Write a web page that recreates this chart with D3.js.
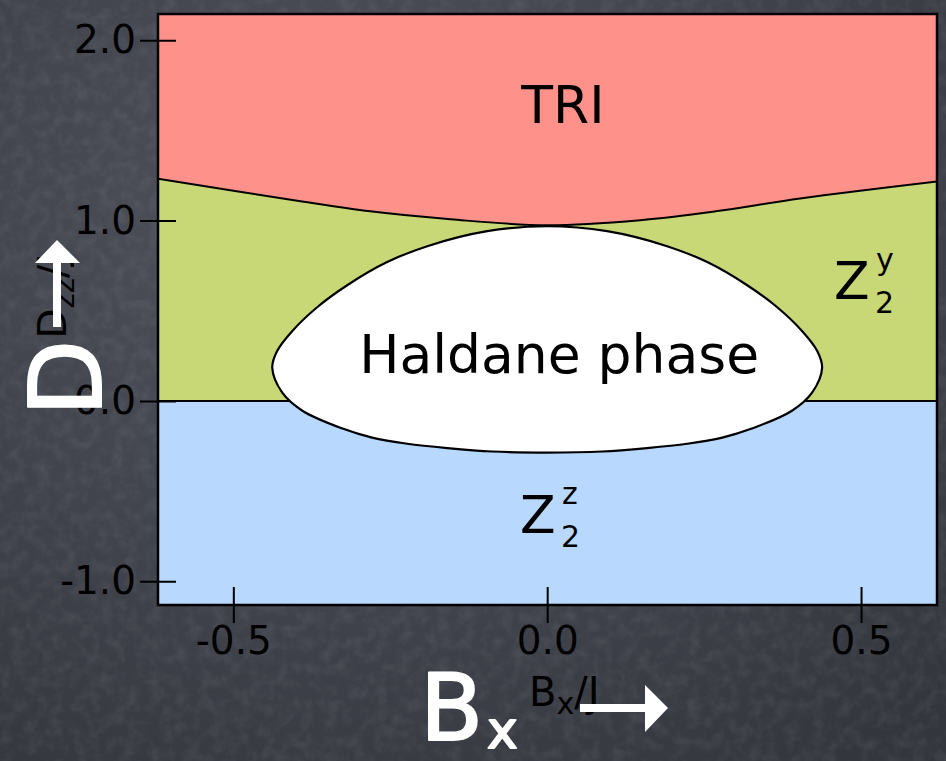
<!DOCTYPE html>
<html>
<head>
<meta charset="utf-8">
<script src="https://cdn.jsdelivr.net/npm/d3@7"></script>
<style>
  html, body { margin: 0; padding: 0; background: #44474f; }
  svg { display: block; }
</style>
</head>
<body>
<svg id="chart" width="946" height="761"></svg>
<script>
// ---------- data ----------
const xTickValues = [-0.5, 0.0, 0.5];
const yTickValues = [-1.0, 0.0, 1.0, 2.0];

// TRI / Z2^y boundary (upper curve)
const triBoundaryBx = [-0.62, -0.393, -0.282, -0.154, 0.0, 0.148, 0.268, 0.403, 0.621];
const triBoundaryD  = [1.232, 1.107, 1.051, 1.007, 0.974, 1.002, 1.051, 1.122, 1.216];

// Z2^y / Z2^z boundary
const z2BoundaryD = 0.0;

// Haldane phase closed boundary (upper arc left->right, then lower arc right->left)
const haldaneBx = [-0.438, -0.430, -0.406, -0.366, -0.318, -0.255, -0.191, -0.0955, 0.0,
                   0.0955, 0.191, 0.255, 0.318, 0.366, 0.406, 0.430, 0.438,
                   0.422, 0.390, 0.326, 0.279, 0.223, 0.159, 0.0876, 0.0,
                   -0.0876, -0.159, -0.223, -0.279, -0.326, -0.390, -0.422];
const haldaneD  = [0.184, 0.278, 0.388, 0.521, 0.643, 0.770, 0.858, 0.941, 0.9685,
                   0.941, 0.858, 0.770, 0.643, 0.521, 0.388, 0.278, 0.184,
                   0.046, -0.054, -0.153, -0.203, -0.237, -0.261, -0.280, -0.286,
                   -0.280, -0.261, -0.237, -0.203, -0.153, -0.054, 0.046];

const phaseNames = ["TRI", "Haldane phase", "Z", "Z"];
const xDomain = [-0.62, 0.621];
const yDomain = [-1.131, 2.145];

// ---------- layout ----------
const W = 946, H = 761;
const plot = { left: 158, right: 937, top: 14, bottom: 605 };
const colors = { tri: "#ff918b", z2y: "#c8d876", z2z: "#b9d8fd", haldane: "#ffffff" };
const font = "'DejaVu Sans', Verdana, sans-serif";

const svg = d3.select("#chart");
const x = d3.scaleLinear().domain(xDomain).range([plot.left, plot.right]);
const y = d3.scaleLinear().domain(yDomain).range([plot.bottom, plot.top]);

// ---------- background (chalkboard) ----------
const defs = svg.append("defs");
const bg = defs.append("radialGradient").attr("id", "bg").attr("cx", "40%").attr("cy", "30%").attr("r", "85%");
bg.append("stop").attr("offset", "0%").attr("stop-color", "#52555e");
bg.append("stop").attr("offset", "100%").attr("stop-color", "#33363d");
const noise = defs.append("filter").attr("id", "noise").attr("x", 0).attr("y", 0).attr("width", "100%").attr("height", "100%");
noise.append("feTurbulence").attr("type", "fractalNoise").attr("baseFrequency", "0.08").attr("numOctaves", 3).attr("seed", 7).attr("result", "t");
noise.append("feColorMatrix").attr("in", "t").attr("type", "matrix")
  .attr("values", "0 0 0 0 0.85  0 0 0 0 0.87  0 0 0 0 0.92  0 0 0 0.9 -0.35");
svg.append("rect").attr("width", W).attr("height", H).attr("fill", "url(#bg)");
svg.append("rect").attr("width", W).attr("height", H).attr("filter", "url(#noise)").attr("opacity", 0.16);

defs.append("clipPath").attr("id", "clip").append("rect")
  .attr("x", plot.left).attr("y", plot.top)
  .attr("width", plot.right - plot.left).attr("height", plot.bottom - plot.top);

const g = svg.append("g").attr("clip-path", "url(#clip)");

// ---------- phase regions ----------
const triPts = triBoundaryBx.map((bx, i) => [bx, triBoundaryD[i]]);
const triCurve = d3.curveCatmullRom.alpha(0.5);

// Z2^z (below zero)
g.append("rect")
  .attr("x", x(xDomain[0])).attr("y", y(z2BoundaryD))
  .attr("width", x(xDomain[1]) - x(xDomain[0])).attr("height", y(yDomain[0]) - y(z2BoundaryD))
  .attr("fill", colors.z2z);

// Z2^y between zero and TRI curve
g.append("path").datum(triPts)
  .attr("d", d3.area().x(d => x(d[0])).y0(y(z2BoundaryD)).y1(d => y(d[1])).curve(triCurve))
  .attr("fill", colors.z2y);

// TRI above curve
g.append("path").datum(triPts)
  .attr("d", d3.area().x(d => x(d[0])).y0(y(yDomain[1])).y1(d => y(d[1])).curve(triCurve))
  .attr("fill", colors.tri);

// boundaries
g.append("path").datum(triPts)
  .attr("d", d3.line().x(d => x(d[0])).y(d => y(d[1])).curve(triCurve))
  .attr("fill", "none").attr("stroke", "#000").attr("stroke-width", 2);
g.append("line")
  .attr("x1", x(xDomain[0])).attr("x2", x(xDomain[1]))
  .attr("y1", y(z2BoundaryD)).attr("y2", y(z2BoundaryD))
  .attr("stroke", "#000").attr("stroke-width", 2);

// Haldane
const halPts = haldaneBx.map((bx, i) => [bx, haldaneD[i]]);
g.append("path").datum(halPts)
  .attr("d", d3.line().x(d => x(d[0])).y(d => y(d[1])).curve(d3.curveCatmullRomClosed.alpha(0.5)))
  .attr("fill", colors.haldane).attr("stroke", "#000").attr("stroke-width", 2.2);

// ---------- phase labels ----------
const labels = svg.append("g").attr("font-family", font).attr("fill", "#000");
labels.append("text").attr("x", x(0.025)).attr("y", 123).attr("text-anchor", "middle")
  .attr("font-size", 52).text(phaseNames[0]);
labels.append("text").attr("x", x(0.019)).attr("y", 373).attr("text-anchor", "middle")
  .attr("font-size", 53.5).text(phaseNames[1]);

function zLabel(px, base, sup) {
  labels.append("text").attr("x", px).attr("y", base).attr("font-size", 52).text(phaseNames[2]);
  labels.append("text").attr("x", px + 41).attr("y", base + 14).attr("font-size", 30).text("2");
  labels.append("text").attr("x", px + 42).attr("y", base - 29).attr("font-size", 30).text(sup);
}
zLabel(520, 533, "z");
zLabel(834, 299, "y");

// ---------- frame ----------
svg.append("rect")
  .attr("x", plot.left).attr("y", plot.top)
  .attr("width", plot.right - plot.left).attr("height", plot.bottom - plot.top)
  .attr("fill", "none").attr("stroke", "#000").attr("stroke-width", 2.5);

// ---------- axes ----------
const fmt = d => d.toFixed(1);
const yAxis = svg.append("g").attr("transform", `translate(${plot.left},0)`)
  .call(d3.axisLeft(y).tickValues(yTickValues).tickFormat(fmt).tickSize(18).tickPadding(4));
yAxis.select(".domain").remove();
yAxis.selectAll(".tick line").attr("x1", 18).attr("x2", -18).attr("stroke", "#000").attr("stroke-width", 2);
yAxis.selectAll(".tick text").attr("font-family", font).attr("font-size", 39).attr("fill", "#000");

const xAxis = svg.append("g").attr("transform", `translate(0,${plot.bottom})`)
  .call(d3.axisBottom(x).tickValues(xTickValues).tickFormat(fmt).tickSize(18).tickPadding(3));
xAxis.select(".domain").remove();
xAxis.selectAll(".tick line").attr("y1", -18).attr("y2", 18).attr("stroke", "#000").attr("stroke-width", 2);
xAxis.selectAll(".tick text").attr("font-family", font).attr("font-size", 39).attr("fill", "#000");

// axis titles (black)
const xt = svg.append("text").attr("x", 529).attr("y", 706).attr("font-family", font).attr("font-size", 40).attr("fill", "#000");
xt.append("tspan").text("B");
xt.append("tspan").attr("font-size", 30).attr("dy", 8).text("x");
xt.append("tspan").attr("dy", -8).text("/J");

const yt = svg.append("text").attr("transform", "translate(66,296) rotate(-90)")
  .attr("text-anchor", "middle").attr("font-family", font).attr("font-size", 39).attr("fill", "#000");
yt.append("tspan").text("D");
yt.append("tspan").attr("font-size", 29).attr("dy", 8).text("zz");
yt.append("tspan").attr("dy", -8).text("/J");

// ---------- white chalk annotations ----------
const chalk = svg.append("g").attr("fill", "#fff").attr("stroke", "#fff")
  .attr("stroke-linejoin", "round").attr("font-family", font);
chalk.append("text").attr("transform", "translate(101,378) rotate(-90)")
  .attr("text-anchor", "middle").attr("font-size", 100).attr("stroke-width", 2).text("D");
chalk.append("rect").attr("x", 53).attr("y", 258).attr("width", 8).attr("height", 69).attr("stroke", "none");
chalk.append("path").attr("d", "M35,263 L80,263 L57,240 Z").attr("stroke", "none");

chalk.append("text").attr("x", 420).attr("y", 740).attr("font-size", 92).attr("stroke-width", 2).text("B");
chalk.append("text").attr("x", 487).attr("y", 748).attr("font-size", 52).attr("stroke-width", 2).text("x");
chalk.append("rect").attr("x", 580).attr("y", 704).attr("width", 68).attr("height", 8).attr("stroke", "none");
chalk.append("path").attr("d", "M645,685 L645,732 L668,708 Z").attr("stroke", "none");
</script>
</body>
</html>
